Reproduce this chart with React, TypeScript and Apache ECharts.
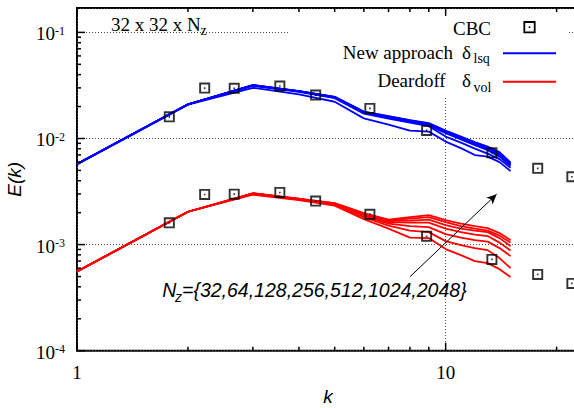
import React, { useEffect, useRef } from 'react';
import * as echarts from 'echarts';

// ---------- data ----------
const kValues = [1, 2, 3, 4, 5, 6, 7, 8, 9, 10, 11, 12, 13, 14, 15];

// New approach (delta_lsq), one array per Nz
const blue32 = [5.70e-3, 2.083e-2, 3.005e-2, 2.60e-2, 2.22e-2, 1.547e-2, 1.352e-2, 1.187e-2, 1.161e-2, 9.35e-3, 8.12e-3, 6.98e-3, 6.75e-3, 5.99e-3, 4.93e-3];
const blue64 = [5.74e-3, 2.092e-2, 3.131e-2, 2.749e-2, 2.403e-2, 1.716e-2, 1.540e-2, 1.412e-2, 1.308e-2, 1.042e-2, 9.15e-3, 8.03e-3, 7.21e-3, 6.39e-3, 5.30e-3];
const blue128 = [5.74e-3, 2.10e-2, 3.165e-2, 2.779e-2, 2.434e-2, 1.750e-2, 1.574e-2, 1.434e-2, 1.337e-2, 1.124e-2, 9.81e-3, 8.67e-3, 7.77e-3, 6.75e-3, 5.53e-3];
const blue256 = [5.74e-3, 2.10e-2, 3.172e-2, 2.785e-2, 2.445e-2, 1.762e-2, 1.592e-2, 1.449e-2, 1.352e-2, 1.142e-2, 1.000e-2, 8.86e-3, 7.94e-3, 6.98e-3, 5.68e-3];
const blue512 = [5.74e-3, 2.10e-2, 3.179e-2, 2.791e-2, 2.456e-2, 1.773e-2, 1.602e-2, 1.465e-2, 1.367e-2, 1.159e-2, 1.017e-2, 9.01e-3, 8.12e-3, 7.18e-3, 5.79e-3];
const blue1024 = [5.74e-3, 2.10e-2, 3.19e-2, 2.80e-2, 2.466e-2, 1.785e-2, 1.616e-2, 1.478e-2, 1.382e-2, 1.174e-2, 1.031e-2, 9.13e-3, 8.26e-3, 7.32e-3, 5.86e-3];
const blue2048 = [5.74e-3, 2.10e-2, 3.19e-2, 2.80e-2, 2.47e-2, 1.79e-2, 1.626e-2, 1.491e-2, 1.397e-2, 1.187e-2, 1.042e-2, 9.25e-3, 8.39e-3, 7.44e-3, 5.93e-3];

// Deardorff (delta_vol), one array per Nz
const red32 = [5.57e-4, 2.04e-3, 2.96e-3, 2.627e-3, 2.331e-3, 1.739e-3, 1.415e-3, 1.164e-3, 1.151e-3, 9.07e-4, 7.96e-4, 6.99e-4, 6.69e-4, 5.87e-4, 4.94e-4];
const red64 = [5.57e-4, 2.04e-3, 2.992e-3, 2.655e-3, 2.382e-3, 1.816e-3, 1.510e-3, 1.355e-3, 1.312e-3, 1.079e-3, 9.89e-4, 9.27e-4, 8.87e-4, 7.46e-4, 6.00e-4];
const red128 = [5.57e-4, 2.04e-3, 3.012e-3, 2.667e-3, 2.408e-3, 1.877e-3, 1.577e-3, 1.494e-3, 1.462e-3, 1.256e-3, 1.164e-3, 1.102e-3, 1.067e-3, 9.27e-4, 7.79e-4];
const red256 = [5.57e-4, 2.04e-3, 3.025e-3, 2.685e-3, 2.424e-3, 1.918e-3, 1.630e-3, 1.612e-3, 1.612e-3, 1.415e-3, 1.312e-3, 1.242e-3, 1.203e-3, 1.044e-3, 8.78e-4];
const red512 = [5.57e-4, 2.04e-3, 3.04e-3, 2.696e-3, 2.434e-3, 1.939e-3, 1.665e-3, 1.683e-3, 1.720e-3, 1.527e-3, 1.415e-3, 1.355e-3, 1.312e-3, 1.151e-3, 9.68e-4];
const red1024 = [5.57e-4, 2.04e-3, 3.04e-3, 2.702e-3, 2.445e-3, 1.960e-3, 1.702e-3, 1.758e-3, 1.816e-3, 1.630e-3, 1.494e-3, 1.415e-3, 1.355e-3, 1.216e-3, 1.044e-3];
const red2048 = [5.57e-4, 2.04e-3, 3.04e-3, 2.714e-3, 2.461e-3, 1.981e-3, 1.720e-3, 1.816e-3, 1.897e-3, 1.702e-3, 1.577e-3, 1.494e-3, 1.430e-3, 1.284e-3, 1.102e-3];

// CBC experimental data
const cbcK = [1.78, 2.22, 2.67, 3.55, 4.44, 6.23, 8.88, 13.35, 17.77, 22.0];
const cbcUpper = [1.60e-2, 2.985e-2, 2.97e-2, 3.12e-2, 2.565e-2, 1.922e-2, 1.192e-2, 7.33e-3, 5.23e-3, 4.36e-3];
const cbcLower = [1.605e-3, 2.97e-3, 2.99e-3, 3.10e-3, 2.57e-3, 1.93e-3, 1.20e-3, 7.25e-4, 5.24e-4, 4.31e-4];

// axes
const X_MIN = 1;
const X_MAX = 23;
const Y_MIN = 1e-4;
const Y_MAX = 0.1698;
const xMajorTicks = [1, 10];
const xMinorTicks = [2, 3, 4, 5, 6, 7, 8, 9, 20];
const yMajorTicks = [1e-4, 1e-3, 1e-2, 1e-1];
const yMinorTicks = [
  2e-4, 3e-4, 4e-4, 5e-4, 6e-4, 7e-4, 8e-4, 9e-4,
  2e-3, 3e-3, 4e-3, 5e-3, 6e-3, 7e-3, 8e-3, 9e-3,
  2e-2, 3e-2, 4e-2, 5e-2, 6e-2, 7e-2, 8e-2, 9e-2,
];

// arrow annotation (data coordinates)
const arrowFrom = [8.0, 4.97e-4];
const arrowTo = [13.75, 2.99e-3];

const SERIF = '"Liberation Serif", "Times New Roman", serif';
const SANS = '"Liberation Sans", Arial, sans-serif';
const BLUE = '#0000ff';
const RED = '#ff0000';

const blueSets = [blue32, blue64, blue128, blue256, blue512, blue1024, blue2048];
const redSets = [red32, red64, red128, red256, red512, red1024, red2048];

function isPow10(v: number) {
  const l = Math.log10(v);
  return Math.abs(l - Math.round(l)) < 1e-6;
}

function buildOption() {
  const lineSeries: any[] = [];
  blueSets.forEach((arr) => {
    lineSeries.push({
      type: 'line',
      name: 'New approach',
      data: kValues.map((k, i) => [k, arr[i]]),
      symbol: 'none',
      showSymbol: false,
      silent: true,
      z: 3,
      lineStyle: { color: BLUE, width: 1.8 },
      itemStyle: { color: BLUE },
    });
  });
  redSets.forEach((arr, idx) => {
    const s: any = {
      type: 'line',
      name: 'Deardoff',
      data: kValues.map((k, i) => [k, arr[i]]),
      symbol: 'none',
      showSymbol: false,
      silent: true,
      z: 3,
      lineStyle: { color: RED, width: 1.8 },
      itemStyle: { color: RED },
    };
    if (idx === 0) {
      s.markLine = {
        silent: true,
        symbol: ['none', 'arrow'],
        symbolSize: [7, 10],
        label: { show: false },
        lineStyle: { color: '#000', width: 1, type: 'solid' },
        data: [[{ coord: arrowFrom }, { coord: arrowTo }]],
      };
    }
    lineSeries.push(s);
  });

  const cbcSymbol = 'path://M0,0H11V11H0Z M1.9,1.9V9.1H9.1V1.9Z M4.7,4.7H6.3V6.3H4.7Z';
  const cbcSeries = [cbcUpper, cbcLower].map((arr) => ({
    type: 'scatter',
    name: 'CBC',
    data: cbcK.map((k, i) => [k, arr[i]]),
    symbol: cbcSymbol,
    symbolSize: 11,
    silent: true,
    z: 4,
    itemStyle: { color: '#000' },
  }));

  const tickData: number[][] = [
    ...xMajorTicks.map((k) => [k, Y_MIN, 0, 8]),
    ...xMinorTicks.map((k) => [k, Y_MIN, 0, 4]),
    ...yMajorTicks.map((e) => [X_MIN, e, 1, 8]),
    ...yMinorTicks.map((e) => [X_MIN, e, 1, 4]),
  ];

  const tickSeries = {
    type: 'custom',
    silent: true,
    z: 5,
    data: tickData,
    renderItem: (params: any, api: any) => {
      const v0 = api.value(0);
      const v1 = api.value(1);
      const kind = api.value(2);
      const len = api.value(3);
      const st = { stroke: '#000', lineWidth: 1.5 };
      if (kind === 0) {
        const b = api.coord([v0, Y_MIN]);
        const t = api.coord([v0, Y_MAX]);
        return {
          type: 'group',
          children: [
            { type: 'line', shape: { x1: b[0], y1: b[1], x2: b[0], y2: b[1] - len }, style: st },
            { type: 'line', shape: { x1: t[0], y1: t[1], x2: t[0], y2: t[1] + len }, style: st },
          ],
        };
      }
      const l = api.coord([X_MIN, v1]);
      return { type: 'line', shape: { x1: l[0], y1: l[1], x2: l[0] + len, y2: l[1] }, style: st };
    },
  };

  const txt = (text: string, x: number, y: number, size: number, align: string, family = SERIF, italic = false) => ({
    type: 'text',
    x,
    y,
    z: 10,
    silent: true,
    style: {
      text,
      fill: '#000',
      fontSize: size,
      fontFamily: family,
      fontStyle: italic ? 'italic' : 'normal',
      align,
      verticalAlign: 'middle',
    },
  });

  const graphicElements: any[] = [
    // key background (gnuplot erases grid behind key)
    { type: 'rect', z: 1, silent: true, shape: { x: 290, y: 10, width: 277, height: 87 }, style: { fill: '#fff' } },
    // key entries
    txt('CBC', 491, 28, 19, 'right'),
    { type: 'rect', z: 10, silent: true, shape: { x: 524.3, y: 22, width: 10.4, height: 10.4 }, style: { fill: 'none', stroke: '#000', lineWidth: 1.8 } },
    { type: 'rect', z: 10, silent: true, shape: { x: 528.7, y: 26.4, width: 1.6, height: 1.6 }, style: { fill: '#000' } },
    txt('New approach', 453, 52, 19, 'right'),
    txt('δ', 462, 52, 19, 'left'),
    txt('lsq', 473.5, 58.7, 14, 'left'),
    { type: 'line', z: 10, silent: true, shape: { x1: 503, y1: 53.3, x2: 556, y2: 53.3 }, style: { stroke: BLUE, lineWidth: 2 } },
    txt('Deardoff', 445.7, 80.8, 19, 'right'),
    txt('δ', 462, 80.8, 19, 'left'),
    txt('vol', 473.5, 87, 14, 'left'),
    { type: 'line', z: 10, silent: true, shape: { x1: 503, y1: 81.7, x2: 556, y2: 81.7 }, style: { stroke: RED, lineWidth: 2 } },
    // grid size label
    txt('32 x 32 x N', 111, 24.3, 19, 'left'),
    txt('z', 200.5, 30.3, 14, 'left'),
    // Nz annotation
    txt('N', 162.3, 290, 19.5, 'left', SANS, true),
    txt('z', 175, 297, 14, 'left', SANS, true),
    txt('={32,64,128,256,512,1024,2048}', 182, 290, 19.5, 'left', SANS, true),
  ];

  return {
    animation: false,
    backgroundColor: '#fff',
    grid: {
      left: 77,
      top: 8,
      width: 502,
      height: 342.7,
      show: true,
      borderColor: '#000',
      borderWidth: 2,
      backgroundColor: 'transparent',
      containLabel: false,
      outerBoundsMode: 'none',
    },
    xAxis: {
      type: 'log',
      logBase: 10,
      min: X_MIN,
      max: X_MAX,
      axisLine: { show: false },
      axisTick: { show: false },
      minorTick: { show: false },
      splitLine: { show: true, lineStyle: { color: '#444', width: 1, type: [1, 2] } },
      axisLabel: {
        margin: 12,
        color: '#000',
        fontFamily: SERIF,
        fontSize: 19,
        lineHeight: 19,
        showMinLabel: true,
        showMaxLabel: true,
        formatter: (v: number) => (isPow10(v) ? String(Math.round(v)) : ''),
      },
      name: 'k',
      nameLocation: 'middle',
      nameGap: 36,
      nameTextStyle: { fontFamily: SANS, fontStyle: 'italic', fontSize: 19, lineHeight: 19, color: '#000' },
    },
    yAxis: {
      type: 'log',
      logBase: 10,
      min: Y_MIN,
      max: Y_MAX,
      axisLine: { show: false },
      axisTick: { show: false },
      minorTick: { show: false },
      splitLine: { show: true, lineStyle: { color: '#444', width: 1, type: [1, 2] } },
      axisLabel: {
        margin: 12,
        color: '#000',
        showMinLabel: true,
        showMaxLabel: true,
        formatter: (v: number) => {
          if (!isPow10(v)) return '';
          const e = Math.round(Math.log10(v));
          return `{b|10}{e|${e}}`;
        },
        rich: {
          b: { fontFamily: SERIF, fontSize: 19, lineHeight: 19, color: '#000', padding: [3, 0, 0, 0] },
          e: { fontFamily: SERIF, fontSize: 12, lineHeight: 12, color: '#000', verticalAlign: 'top', padding: [2, 0, 0, 0] },
        },
      },
      name: 'E(k)',
      nameLocation: 'middle',
      nameGap: 53,
      nameTextStyle: { fontFamily: SANS, fontStyle: 'italic', fontSize: 19, color: '#000' },
    },
    graphic: { elements: graphicElements },
    series: [tickSeries, ...cbcSeries, ...lineSeries],
  };
}

export default function App() {
  const ref = useRef<HTMLDivElement>(null);
  useEffect(() => {
    document.body.style.margin = '0';
    const chart = echarts.init(ref.current!, null, { renderer: 'svg' });
    chart.setOption(buildOption() as any);
    return () => chart.dispose();
  }, []);
  return (
    <div
      ref={ref}
      style={{ width: 574, height: 408, position: 'absolute', left: 0, top: 0, background: '#fff' }}
    />
  );
}
